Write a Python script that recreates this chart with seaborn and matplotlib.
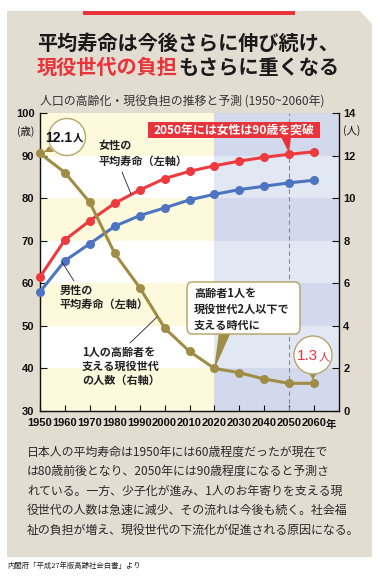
import numpy as np
import pandas as pd
import seaborn as sns
import matplotlib
matplotlib.use('Agg')
import matplotlib.pyplot as plt
from matplotlib.patches import Polygon, Rectangle, FancyBboxPatch, Ellipse

# ---------------- data ----------------
years = [1950, 1960, 1970, 1980, 1990, 2000, 2010, 2020, 2030, 2040, 2050, 2060]
female = [61.5, 70.2, 74.7, 78.8, 81.9, 84.6, 86.3, 87.6, 88.7, 89.6, 90.3, 90.9]
male = [58.0, 65.3, 69.3, 73.4, 75.9, 77.7, 79.6, 80.9, 82.0, 82.8, 83.6, 84.2]
support = [12.1, 11.2, 9.8, 7.4, 5.8, 3.9, 2.8, 2.0, 1.8, 1.5, 1.3, 1.3]
left_ticks = [30, 40, 50, 60, 70, 80, 90, 100]
right_ticks = [0, 2, 4, 6, 8, 10, 12, 14]
x_labels = ['1950', '1960', '1970', '1980', '1990', '2000', '2010', '2020',
            '2030', '2040', '2050', '2060']
title1 = '平均寿命は今後さらに伸び続け、'
title2a = '現役世代の負担'
title2b = 'もさらに重くなる'
subtitle = '人口の高齢化・現役負担の推移と予測 (1950~2060年)'
body = ['日本人の平均寿命は1950年には60歳程度だったが現在で',
        'は80歳前後となり、2050年には90歳程度になると予測さ',
        'れている。一方、少子化が進み、1人のお年寄りを支える現',
        '役世代の人数は急速に減少、その流れは今後も続く。社会福',
        '祉の負担が増え、現役世代の下流化が促進される原因になる。']
source = '内閣府「平成27年版高齢社会白書」より'

RED = '#ec3a3f'
BLUE = '#4d74c0'
OLIVE = '#a08d45'
BOXRED = '#e8333a'
BEIGE = '#e3dcd0'
YEL = '#fcf9dc'
BL_D = '#d3d9ec'
BL_L = '#e2e7f4'
TXT = '#222222'

sns.set_theme(style='white')
plt.rcParams['font.family'] = ['Noto Sans CJK JP', 'DejaVu Sans']
NUMF = ['Liberation Sans Narrow', 'Liberation Sans', 'DejaVu Sans']
NUMF2 = ['Liberation Sans', 'DejaVu Sans']

W, H = 380, 578
fig = plt.figure(figsize=(W / 100, H / 100), dpi=100)
fig.patch.set_facecolor('white')


def fx(x):
    return x / W


def fy(y):
    return 1 - y / H


def T(x, y, s, **kw):
    kw.setdefault('va', 'center')
    kw.setdefault('ha', 'left')
    return fig.text(fx(x), fy(y), s, **kw)


# background panel with cut corner
fig.patches.append(Polygon([(fx(7), fy(11)), (fx(360), fy(11)), (fx(372), fy(24)),
                            (fx(372), fy(557)), (fx(7), fy(557))], closed=True,
                           transform=fig.transFigure, facecolor=BEIGE,
                           edgecolor='none', zorder=-2))
fig.patches.append(Rectangle((fx(83), fy(15)), fx(295) - fx(83), 4 / H,
                             transform=fig.transFigure, facecolor=BOXRED,
                             edgecolor='none', zorder=-1))

# titles
T(188, 43, title1, ha='center', fontsize=14.5, weight='bold', color='#1a1a1a')
t2 = T(37, 67, title2a, fontsize=14.5, weight='bold', color=BOXRED)
T(40, 101, subtitle, fontsize=8.6, color='#333333')

# ---------------- axes ----------------
ax = fig.add_axes([fx(40), fy(411), (339 - 40) / W, (411 - 113) / H])
ax.set_xlim(1950, 2070)
ax.set_ylim(30, 100)
split = (2020 - 1950) / 120
for lo in range(30, 100, 10):
    yellow = (lo // 10) % 2 == 1
    ax.axhspan(lo, lo + 10, 0, split, color=YEL if yellow else 'white', lw=0, zorder=0)
    ax.axhspan(lo, lo + 10, split, 1, color=BL_D if yellow else BL_L, lw=0, zorder=0)
ax.axvline(2050, color='#8a8a8a', lw=0.8, ls=(0, (4, 3)), zorder=1)

df = pd.DataFrame({'year': years * 2, 'age': female + male,
                   'sex': ['女性'] * len(years) + ['男性'] * len(years)})
sns.lineplot(data=df, x='year', y='age', hue='sex',
             palette={'女性': RED, '男性': BLUE}, marker='o', markersize=6.5,
             markeredgewidth=0, linewidth=2.2, legend=False, ax=ax, zorder=3)

ax2 = ax.twinx()
sns.lineplot(x=years, y=support, color=OLIVE, marker='o', markersize=6.5,
             markeredgewidth=0, linewidth=2.2, legend=False, ax=ax2, zorder=3)
ax2.set_ylim(0, 14)
ax2.set_xlim(1950, 2070)
for a in (ax, ax2):
    for ln in a.lines:
        ln.set_clip_on(False)
    a.set_xlabel('')
    a.set_ylabel('')

for a in (ax, ax2):
    a.spines['top'].set_visible(False)
ax.spines['right'].set_visible(False)
ax2.spines['left'].set_visible(False)
ax2.spines['bottom'].set_visible(False)
for sp in ('left', 'bottom'):
    ax.spines[sp].set_color('#111111')
    ax.spines[sp].set_linewidth(1.0)
ax2.spines['right'].set_color('#111111')
ax2.spines['right'].set_linewidth(1.0)

ax.set_xticks(years)
ax.set_xticklabels(x_labels)
ax.set_yticks(left_ticks)
ax.set_yticklabels([str(v) for v in left_ticks])
ax2.set_yticks(right_ticks)
ax2.set_yticklabels([str(v) for v in right_ticks])
ax.tick_params(axis='x', bottom=True, direction='in', length=4, width=0.8,
               pad=5, labelsize=8, colors='#111111')
ax.tick_params(axis='y', left=True, direction='in', length=5, width=0.8,
               pad=4, labelsize=8, colors='#111111')
ax2.tick_params(axis='y', right=True, direction='in', length=5, width=0.8,
                pad=3, labelsize=8, colors='#111111')
for lbl in ax.get_xticklabels():
    lbl.set_fontfamily(NUMF)
    lbl.set_fontweight('bold')
for lbl in ax.get_yticklabels() + ax2.get_yticklabels():
    lbl.set_fontfamily(NUMF2)
    lbl.set_fontweight('bold')
ax.grid(False)
ax2.grid(False)

# axis unit labels
T(331, 425, '年', ha='center', fontsize=7.5, weight='bold', color='#111111')
T(26, 131, '(歳)', ha='center', fontsize=7.5, color='#111111')
T(352, 131, '(人)', ha='center', fontsize=7.5, color='#111111')

# title second half
ax.annotate(title2b, xy=(1, 0), xycoords=t2, va='bottom', ha='left',
            fontsize=14.5, weight='bold', color='#1a1a1a', annotation_clip=False)

# ---------------- annotations ----------------
# 12.1人 bubble
fig.patches.append(Polygon([(fx(49), fy(146)), (fx(54), fy(152)), (fx(44), fy(152))],
                           closed=True, transform=fig.transFigure,
                           facecolor=OLIVE, edgecolor='none', zorder=5))
fig.patches.append(Ellipse((fx(67), fy(137)), 37 / W, 37 / H, transform=fig.transFigure,
                           facecolor='white', edgecolor='#b7a56d', lw=1.0, zorder=6))
T(72, 138, '12.1', ha='right', fontsize=10, weight='bold', family=NUMF, color='#111111', zorder=7)
T(73, 138, '人', ha='left', fontsize=7.5, weight='bold', color='#111111', zorder=7)

# 1.3人 bubble
fig.patches.append(Polygon([(fx(309), fy(373)), (fx(317), fy(373)), (fx(313), fy(380))],
                           closed=True, transform=fig.transFigure,
                           facecolor=OLIVE, edgecolor='none', zorder=5))
fig.patches.append(Ellipse((fx(313), fy(355)), 38 / W, 38 / H, transform=fig.transFigure,
                           facecolor='white', edgecolor='#b7a56d', lw=1.0, zorder=6))
T(318, 356, '1.3', ha='right', fontsize=11, family=NUMF2, color=BOXRED, zorder=7)
T(319, 357, '人', ha='left', fontsize=8, color=BOXRED, zorder=7)

# red box
fig.patches.append(Polygon([(fx(281), fy(137)), (fx(291), fy(137)), (fx(289), fy(153))],
                           closed=True, transform=fig.transFigure,
                           facecolor=BOXRED, edgecolor='none', zorder=5))
fig.patches.append(Rectangle((fx(148), fy(138)), (320 - 148) / W, 16 / H,
                             transform=fig.transFigure, facecolor=BOXRED,
                             edgecolor='none', zorder=6))
T(234, 130, '2050年には女性は90歳を突破', ha='center', fontsize=8.6,
  weight='bold', color='white', zorder=7)

# olive-bordered box
fig.patches.append(Polygon([(fx(219), fy(332)), (fx(231), fy(332)), (fx(214), fy(370))],
                           closed=True, transform=fig.transFigure,
                           facecolor=OLIVE, edgecolor='none', zorder=5))
fig.patches.append(FancyBboxPatch((fx(187), fy(334)), (300 - 187) / W, (334 - 282) / H,
                                  boxstyle='round,pad=0,rounding_size=0.012',
                                  transform=fig.transFigure, facecolor='white',
                                  edgecolor='#b3a060', lw=1.0, zorder=6))
for i, s in enumerate(['高齢者1人を', '現役世代2人以下で', '支える時代に']):
    T(194, 293 + i * 16, s, fontsize=8, weight='bold', color='#222222', zorder=7)

# series labels & leader lines
T(98, 146, '女性の', fontsize=8, weight='bold', color=TXT)
T(98, 161, '平均寿命（左軸）', fontsize=8, weight='bold', color=TXT)
T(60, 290, '男性の', fontsize=8, weight='bold', color=TXT)
T(60, 304, '平均寿命（左軸）', fontsize=8, weight='bold', color=TXT)
for i, s in enumerate(['1人の高齢者を', '支える現役世代', 'の人数（右軸）']):
    T(82, 352 + i * 14, s, fontsize=8, weight='bold', color=TXT)
for (x0, y0, x1, y1) in [(122, 172, 131, 194), (62, 262, 74, 281), (130, 343, 157, 317)]:
    fig.add_artist(plt.Line2D([fx(x0), fx(x1)], [fy(y0), fy(y1)],
                              transform=fig.transFigure, color='#222222', lw=0.6, zorder=8))

# body text
for i, s in enumerate(body):
    T(27, 452 + i * 19.5, s, fontsize=8.6, color='#2a2a2a')
T(7, 566, source, fontsize=5.3, color='#222222')

fig.savefig('out.png', dpi=100)
